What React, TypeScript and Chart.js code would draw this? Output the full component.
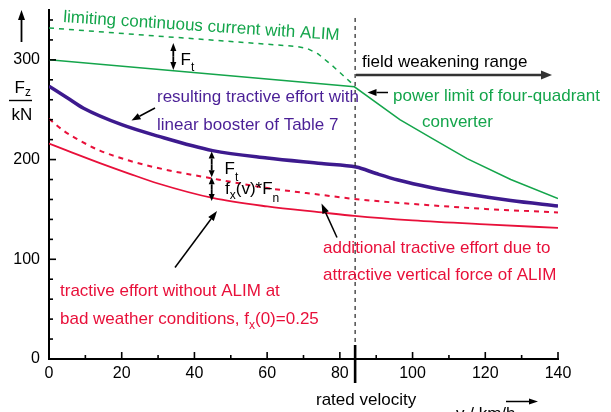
import React, { useEffect, useRef } from 'react';
import { Chart, registerables } from 'chart.js';

Chart.register(...registerables);

const FONT = '"Liberation Sans", Arial, Helvetica, sans-serif';
const GREEN = '#14a54b';
const PURPLE = '#3d1a8e';
const PURPLE_TEXT = '#4a1f96';
const RED = '#e8103a';

// axis ticks
const xTickLabels = [0, 20, 40, 60, 80, 100, 120, 140];
const xMinorTicks = [10, 30, 50, 70, 90, 110, 130];
const yTickLabels = [0, 100, 200, 300];
const yMinorTicks = [20, 40, 60, 80, 120, 140, 160, 180, 220, 240, 260, 280, 320, 340];
const ratedVelocity = 84.2;

// limiting continuous current with ALIM (green dashed)
const vLimit = [0, 68, 71, 74, 78, 84];
const fLimit = [332, 313.5, 311.5, 306, 294, 274];

// continuous current without ALIM / power limit of converter (green solid)
const vPower = [0, 84, 96.5, 105, 115, 127, 140];
const fPower = [300, 273, 240, 222, 201, 180, 161];

// resulting tractive effort with linear booster (purple)
const vResult = [0, 5, 9.5, 20, 30, 45, 60, 75, 84.5, 90, 96, 105, 115, 127, 140];
const fResult = [273.5, 262, 251.5, 235, 223.5, 209, 201.5, 196, 192.5, 186, 179.5, 172, 165.5, 159, 153.5];

// tractive effort incl. attractive vertical force of ALIM (red dashed)
const vAdd = [0, 4, 9, 14, 22, 30, 45, 60, 75, 84, 100, 120, 140];
const fAdd = [241, 229, 218, 209, 199, 191.5, 181, 171.5, 164.5, 160.5, 155.5, 150.5, 147];

// tractive effort without ALIM, bad weather (red solid)
const vBase = [0, 5, 14, 22, 30, 45, 60, 75, 84, 100, 120, 140];
const fBase = [216, 209, 196.5, 186, 176, 161.5, 153, 147, 143.5, 139, 135, 131.5];

const pts = (xs: number[], ys: number[]) => xs.map((x, i) => ({ x, y: ys[i] }));

function arrow(ctx: CanvasRenderingContext2D, x1: number, y1: number, x2: number, y2: number, color = '#000', lw = 1.5, hl = 9, hw = 3.5) {
  const a = Math.atan2(y2 - y1, x2 - x1);
  const bx = x2 - hl * Math.cos(a);
  const by = y2 - hl * Math.sin(a);
  ctx.save();
  ctx.setLineDash([]);
  ctx.strokeStyle = color;
  ctx.fillStyle = color;
  ctx.lineWidth = lw;
  ctx.beginPath();
  ctx.moveTo(x1, y1);
  ctx.lineTo(bx, by);
  ctx.stroke();
  ctx.beginPath();
  ctx.moveTo(x2, y2);
  ctx.lineTo(bx + hw * Math.sin(a), by - hw * Math.cos(a));
  ctx.lineTo(bx - hw * Math.sin(a), by + hw * Math.cos(a));
  ctx.closePath();
  ctx.fill();
  ctx.restore();
}

function dblArrow(ctx: CanvasRenderingContext2D, x: number, y1: number, y2: number, hl = 8, hw = 3) {
  const m = (y1 + y2) / 2;
  arrow(ctx, x, m, x, y1, '#000', 1.8, hl, hw);
  arrow(ctx, x, m, x, y2, '#000', 1.8, hl, hw);
}

type Part = { t: string; sub?: boolean; dy?: number };
function rich(ctx: CanvasRenderingContext2D, parts: Part[], x: number, y: number, color: string, size = 17) {
  let cx = x;
  ctx.save();
  ctx.fillStyle = color;
  ctx.textAlign = 'left';
  ctx.textBaseline = 'alphabetic';
  for (const p of parts) {
    const s = p.sub ? Math.round(size * 0.68) : size;
    ctx.font = `${s}px ${FONT}`;
    ctx.fillText(p.t, cx, y + (p.sub ? (p.dy ?? 6) : 0));
    cx += ctx.measureText(p.t).width;
  }
  ctx.restore();
}

function text(ctx: CanvasRenderingContext2D, t: string, x: number, y: number, color: string, size = 17) {
  rich(ctx, [{ t }], x, y, color, size);
}

const annotations = {
  id: 'annotations',
  afterDraw(chart: any) {
    const ctx: CanvasRenderingContext2D = chart.ctx;
    const xs = chart.scales.x;
    const ys = chart.scales.y;
    const x0 = xs.getPixelForValue(0);
    const y0 = ys.getPixelForValue(0);
    ctx.save();
    ctx.strokeStyle = '#000';
    ctx.lineWidth = 1.6;
    ctx.setLineDash([]);
    // inward ticks
    for (const v of xTickLabels) {
      const px = xs.getPixelForValue(v);
      ctx.beginPath(); ctx.moveTo(px, y0); ctx.lineTo(px, y0 - 7); ctx.stroke();
    }
    for (const v of xMinorTicks) {
      const px = xs.getPixelForValue(v);
      ctx.beginPath(); ctx.moveTo(px, y0); ctx.lineTo(px, y0 - 4); ctx.stroke();
    }
    for (const v of yTickLabels) {
      const py = ys.getPixelForValue(v);
      ctx.beginPath(); ctx.moveTo(x0, py); ctx.lineTo(x0 + 7, py); ctx.stroke();
    }
    for (const v of yMinorTicks) {
      const py = ys.getPixelForValue(v);
      ctx.beginPath(); ctx.moveTo(x0, py); ctx.lineTo(x0 + 4, py); ctx.stroke();
    }
    // rated velocity
    const rx = xs.getPixelForValue(ratedVelocity);
    ctx.lineWidth = 1.2;
    ctx.strokeStyle = '#222';
    ctx.setLineDash([4, 4]);
    ctx.beginPath(); ctx.moveTo(rx, ys.getPixelForValue(342)); ctx.lineTo(rx, y0); ctx.stroke();
    ctx.setLineDash([]);
    ctx.lineWidth = 2.6;
    ctx.strokeStyle = '#000';
    ctx.beginPath(); ctx.moveTo(rx, y0 - 14); ctx.lineTo(rx, y0 + 24); ctx.stroke();
    ctx.restore();

    // y axis label
    arrow(ctx, 21.5, 42, 21.5, 10, '#000', 1.8, 10, 3.5);
    rich(ctx, [{ t: 'F' }, { t: 'z', sub: true, dy: 3 }], 14.5, 92.5, '#000');
    ctx.save();
    ctx.strokeStyle = '#000'; ctx.lineWidth = 1.4;
    ctx.beginPath(); ctx.moveTo(9, 100.5); ctx.lineTo(32, 100.5); ctx.stroke();
    ctx.restore();
    text(ctx, 'kN', 11.5, 120, '#000');

    // x axis labels
    text(ctx, 'rated velocity', 316, 404.5, '#000');
    text(ctx, 'v / km/h', 456, 419, '#000');
    arrow(ctx, 506, 401.5, 538, 401.5, '#000', 1.5, 9, 3);

    // green rotated label
    ctx.save();
    ctx.translate(63, 22);
    ctx.rotate(Math.atan2(18, 275));
    text(ctx, 'limiting continuous current with ALIM', 0, 0, GREEN);
    ctx.restore();

    // F_t between green lines
    dblArrow(ctx, 173.3, 43, 70, 8, 3);
    rich(ctx, [{ t: 'F' }, { t: 't', sub: true, dy: 6 }], 180.5, 65, '#000');

    // field weakening range
    text(ctx, 'field weakening range', 362, 67, '#000');
    arrow(ctx, 356, 75, 552, 75, '#333', 2.6, 11, 4.5);

    // power limit
    text(ctx, 'power limit of four-quadrant', 393, 100.5, GREEN);
    text(ctx, 'converter', 422, 127, GREEN);
    arrow(ctx, 388, 92.5, 367.5, 92.5, '#000', 1.5, 9, 3.5);

    // resulting tractive effort
    text(ctx, 'resulting tractive effort with', 157, 102, PURPLE_TEXT);
    text(ctx, 'linear booster of Table 7', 157, 130, PURPLE_TEXT);
    arrow(ctx, 155, 108, 131.5, 120.5, '#000', 1.5, 9, 3.5);

    // F_t and f_x(v)*F_n
    dblArrow(ctx, 211.7, 151.5, 177.3, 7, 3);
    dblArrow(ctx, 211.7, 177.3, 201, 7, 3);
    rich(ctx, [{ t: 'F' }, { t: 't', sub: true, dy: 7 }], 224.5, 173.5, '#000');
    rich(ctx, [{ t: 'f' }, { t: 'x', sub: true, dy: 5 }, { t: '(v)*F' }, { t: 'n', sub: true, dy: 8 }], 225, 194, '#000');
    arrow(ctx, 175, 267.5, 217, 211, '#000', 1.5, 10, 3.5);

    // additional tractive effort
    text(ctx, 'additional tractive effort due to', 323, 252.5, RED);
    text(ctx, 'attractive vertical force of ALIM', 323, 279.5, RED);
    arrow(ctx, 337, 237.5, 321.5, 203.5, '#000', 1.5, 10, 3.5);

    // tractive effort without ALIM
    text(ctx, 'tractive effort without ALIM at', 60, 296, RED);
    rich(ctx, [{ t: 'bad weather conditions, f' }, { t: 'x', sub: true, dy: 5 }, { t: '(0)=0.25' }], 60, 324, RED);
  },
};

export default function App() {
  const ref = useRef<HTMLCanvasElement | null>(null);
  useEffect(() => {
    if (!ref.current) return;
    const chart = new Chart(ref.current, {
      type: 'line',
      data: {
        datasets: [
          { data: pts(vLimit, fLimit), borderColor: GREEN, borderWidth: 1.5, borderDash: [5, 5], pointRadius: 0, tension: 0, fill: false },
          { data: pts(vPower, fPower), borderColor: GREEN, borderWidth: 1.5, pointRadius: 0, tension: 0, fill: false },
          { data: pts(vAdd, fAdd), borderColor: RED, borderWidth: 2, borderDash: [5, 5], pointRadius: 0, cubicInterpolationMode: 'monotone', fill: false },
          { data: pts(vBase, fBase), borderColor: RED, borderWidth: 1.8, pointRadius: 0, cubicInterpolationMode: 'monotone', fill: false },
          { data: pts(vResult, fResult), borderColor: PURPLE, borderWidth: 3.5, pointRadius: 0, cubicInterpolationMode: 'monotone', fill: false },
        ],
      },
      options: {
        animation: false,
        responsive: false,
        layout: { padding: { left: 0, top: 10, right: 53, bottom: 0 } },
        plugins: { legend: { display: false }, tooltip: { enabled: false }, title: { display: false } },
        scales: {
          x: {
            type: 'linear',
            min: 0,
            max: 140,
            grid: { display: false, drawTicks: false },
            border: { display: true, color: '#000', width: 2 },
            ticks: { stepSize: 20, autoSkip: false, maxRotation: 0, padding: 5, color: '#000', font: { family: FONT, size: 16 } },
            afterFit: (s: any) => { s.height = 53; s.paddingLeft = 0; s.paddingRight = 0; s.paddingTop = 0; s.paddingBottom = 0; },
          },
          y: {
            type: 'linear',
            min: 0,
            max: 350,
            grid: { display: false, drawTicks: false },
            border: { display: true, color: '#000', width: 2 },
            ticks: {
              stepSize: 100,
              padding: 9,
              color: '#000',
              font: { family: FONT, size: 16 },
              callback: (v: any) => (yTickLabels.includes(Number(v)) ? String(v) : ''),
            },
            afterFit: (s: any) => { s.width = 49; s.paddingLeft = 0; s.paddingRight = 0; s.paddingTop = 0; s.paddingBottom = 0; },
          },
        },
      },
      plugins: [annotations],
    });
    return () => chart.destroy();
  }, []);
  return (
    <div style={{ position: 'fixed', left: 0, top: 0, width: 611, height: 412, background: '#fff' }}>
      <canvas ref={ref} width={611} height={412} style={{ display: 'block' }} />
    </div>
  );
}
